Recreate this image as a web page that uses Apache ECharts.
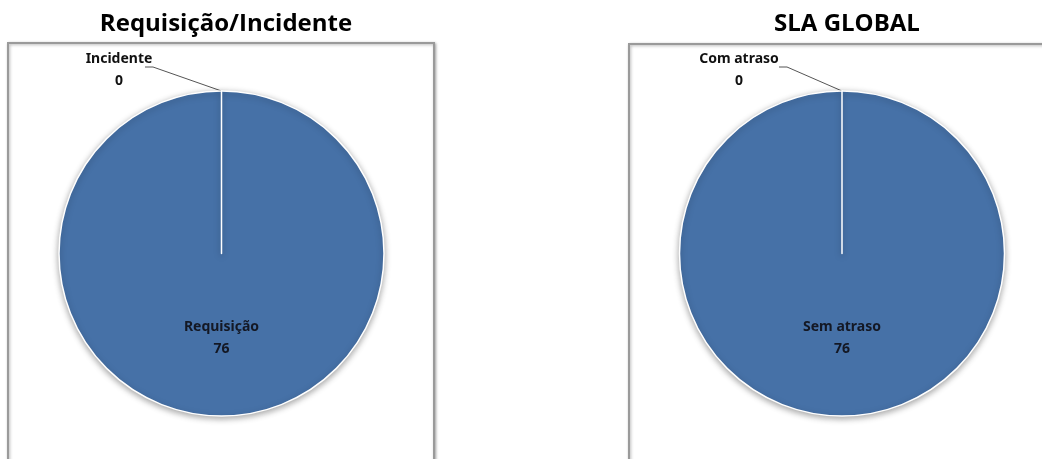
<!DOCTYPE html>
<html><head><meta charset="utf-8">
<script src="https://cdn.jsdelivr.net/npm/echarts@6/dist/echarts.min.js"></script>
<style>html,body{margin:0;padding:0;background:#fff}#c{width:1042px;height:459px}</style>
</head><body><div id="c"></div>
<script>
const titles = ['Requisição/Incidente', 'SLA GLOBAL'];
const categoriesLeft = ['Requisição', 'Incidente'];
const valuesLeft = [76, 0];
const categoriesRight = ['Sem atraso', 'Com atraso'];
const valuesRight = [76, 0];

const chart = echarts.init(document.getElementById('c'), null, {renderer: 'canvas'});
const R = 162.5;
const centers = [[221.5, 253.5], [842, 253.5]];
const outsideLabelPos = [[119, 70], [739, 70]];
const lineStart = [[145, 67], [779, 67]];

function makeSeries(i, cats, vals) {
  return {
    type: 'pie',
    center: centers[i],
    radius: R,
    startAngle: 90,
    clockwise: true,
    animation: false,
    silent: true,
    stillShowZeroSum: true,
    minShowLabelAngle: 0,
    avoidLabelOverlap: false,
    itemStyle: {color: '#4671a7', borderColor: '#ffffff', borderWidth: 1.5,
      shadowBlur: 6, shadowColor: 'rgba(0,0,0,0.35)', shadowOffsetY: 2},
    label: {show: true, position: 'inside', formatter: '{b}\n{c}',
      fontFamily: 'Noto Sans', fontWeight: 'bold', fontSize: 14, lineHeight: 22,
      color: '#141824', align: 'center'},
    labelLine: {show: false},
    data: cats.map((c, k) => k === 1 ? {
      name: c, value: vals[k],
      label: {position: 'outside', color: '#111'},
      labelLine: {show: true, lineStyle: {color: '#555', width: 1}, length: 10, length2: 10}
    } : {name: c, value: vals[k]}),
    labelLayout: function (p) {
      if (p.dataIndex === 1) {
        const top = [centers[i][0], centers[i][1] - R];
        return {
          x: outsideLabelPos[i][0], y: outsideLabelPos[i][1],
          align: 'center', verticalAlign: 'middle',
          labelLinePoints: [top, [lineStart[i][0] + 8, lineStart[i][1]], lineStart[i]]
        };
      }
      return {};
    }
  };
}

chart.setOption({
  backgroundColor: '#fff',
  title: [
    {text: titles[0], left: 221, top: 7, textAlign: 'center',
      textStyle: {fontFamily: 'Open Sans', fontWeight: 'bold', fontSize: 24, color: '#000'}},
    {text: titles[1], left: 842, top: 7, textAlign: 'center',
      textStyle: {fontFamily: 'Open Sans', fontWeight: 'bold', fontSize: 24, color: '#000'}}
  ],
  graphic: [
    {type: 'rect', z: -10, shape: {x: 8, y: 43, width: 426, height: 440},
      style: {fill: '#fff', stroke: '#9a9a9a', lineWidth: 2,
        shadowBlur: 3, shadowColor: 'rgba(0,0,0,0.3)', shadowOffsetX: 1, shadowOffsetY: 1}},
    {type: 'rect', z: -10, shape: {x: 629, y: 44, width: 440, height: 440},
      style: {fill: '#fff', stroke: '#9a9a9a', lineWidth: 2,
        shadowBlur: 3, shadowColor: 'rgba(0,0,0,0.3)', shadowOffsetX: 1, shadowOffsetY: 1}}
  ],
  series: [
    makeSeries(0, categoriesLeft, valuesLeft),
    makeSeries(1, categoriesRight, valuesRight)
  ]
});
</script>
</body></html>
